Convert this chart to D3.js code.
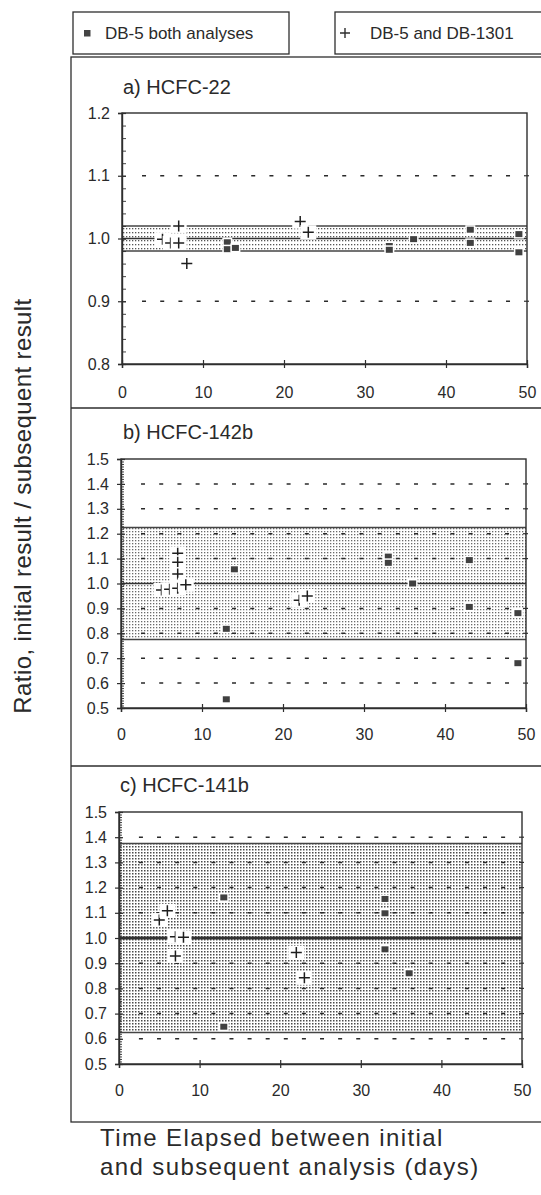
<!DOCTYPE html>
<html><head><meta charset="utf-8">
<script src="https://cdn.jsdelivr.net/npm/d3@7"></script>
<style>
body{margin:0;background:#fff;}
svg{display:block;}
text{font-family:"Liberation Sans",Arial,Helvetica,sans-serif;fill:#2a2a2a;}
</style>
</head><body>
<svg id="chart" width="541" height="1195"></svg>
<script>
// ---------- data ----------
const legendLabels = ["DB-5 both analyses", "DB-5 and DB-1301"];
const panelTitles = ["a) HCFC-22", "b) HCFC-142b", "c) HCFC-141b"];
const xTickValues = [0, 10, 20, 30, 40, 50];
const yTicksA = [0.8, 0.9, 1.0, 1.1, 1.2];
const yTicksBC = [0.5, 0.6, 0.7, 0.8, 0.9, 1.0, 1.1, 1.2, 1.3, 1.4, 1.5];
const gridA = [0.9, 1.1];
const gridBC = [0.6, 0.7, 0.8, 0.9, 1.1, 1.2, 1.3, 1.4];
const bandA = [0.98, 1.02];
const bandB = [0.775, 1.225];
const bandC = [0.625, 1.375];

const aSquareDays = [13, 13, 14, 33, 33, 36, 43, 43, 49, 49];
const aSquareVals = [0.994, 0.983, 0.985, 0.988, 0.982, 0.999, 1.014, 0.993, 1.007, 0.978];
const aCrossDays = [5, 6, 7, 7, 8, 22, 23];
const aCrossVals = [0.999, 0.993, 0.993, 1.02, 0.96, 1.027, 1.01];

const bSquareDays = [13, 13, 14, 33, 33, 36, 43, 43, 49, 49];
const bSquareVals = [0.818, 0.535, 1.057, 1.108, 1.083, 1.0, 1.094, 0.906, 0.881, 0.68];
const bCrossDays = [5, 6, 7, 7, 7, 7, 8, 22, 23];
const bCrossVals = [0.974, 0.977, 1.121, 1.085, 1.038, 0.981, 0.995, 0.933, 0.95];

const cSquareDays = [13, 13, 33, 33, 33, 36];
const cSquareVals = [1.161, 0.648, 1.155, 1.098, 0.955, 0.86];
const cCrossDays = [5, 6, 7, 8, 7, 22, 23];
const cCrossVals = [1.071, 1.108, 1.005, 1.003, 0.929, 0.942, 0.842];

const xTitleLines = ["Time Elapsed between initial", "and subsequent analysis (days)"];
const yTitle = "Ratio, initial result / subsequent result";

// ---------- layout ----------
const panels = [
  {title: panelTitles[0], yTicks: yTicksA, grid: gridA, band: bandA, minor: 0.02,
   sqD: aSquareDays, sqV: aSquareVals, crD: aCrossDays, crV: aCrossVals,
   left: 122, right: 527, top: 113, bottom: 364, titleX: 123, titleY: 94, xLab: 28,
   pat: "patA", centerW: 1.6},
  {title: panelTitles[1], yTicks: yTicksBC, grid: gridBC, band: bandB, minor: 0.01,
   sqD: bSquareDays, sqV: bSquareVals, crD: bCrossDays, crV: bCrossVals,
   left: 121, right: 526, top: 459, bottom: 708, titleX: 123, titleY: 439, xLab: 26,
   pat: "patB", centerW: 1.6},
  {title: panelTitles[2], yTicks: yTicksBC, grid: gridBC, band: bandC, minor: 0.01,
   sqD: cSquareDays, sqV: cSquareVals, crD: cCrossDays, crV: cCrossVals,
   left: 119, right: 522, top: 812, bottom: 1064, titleX: 120, titleY: 792, xLab: 26,
   pat: "patC", centerW: 2.8}
];

const ink = "#2e2e2e";
const svg = d3.select("#chart");
const defs = svg.append("defs");
function makePattern(id, w, h, s, col) {
  const p = defs.append("pattern").attr("id", id).attr("patternUnits", "userSpaceOnUse")
    .attr("width", w).attr("height", h);
  p.append("rect").attr("width", w).attr("height", h).attr("fill", "#fff");
  p.append("rect").attr("x", 0).attr("y", 0).attr("width", s).attr("height", s).attr("fill", col);
}
makePattern("patA", 3, 4, 1.3, "#555");
makePattern("patB", 3, 3, 1.3, "#6a6a6a");
makePattern("patC", 3, 3, 1.5, "#4a4a4a");

// ---------- legend ----------
svg.append("rect").attr("x", 73).attr("y", 12).attr("width", 216).attr("height", 42)
  .attr("fill", "none").attr("stroke", ink).attr("stroke-width", 1.3);
svg.append("rect").attr("x", 335).attr("y", 12).attr("width", 230).attr("height", 42)
  .attr("fill", "none").attr("stroke", ink).attr("stroke-width", 1.3);
svg.append("rect").attr("x", 84).attr("y", 30).attr("width", 6.5).attr("height", 6.5).attr("fill", "#444");
svg.append("text").attr("x", 105).attr("y", 33).attr("dy", "0.36em").attr("font-size", 17).text(legendLabels[0]);
svg.append("path").attr("d", "M340,33H350M345,28V38").attr("stroke", ink).attr("stroke-width", 1.4);
svg.append("text").attr("x", 370).attr("y", 33).attr("dy", "0.36em").attr("font-size", 17).text(legendLabels[1]);

// ---------- outer panel frames ----------
svg.append("rect").attr("x", 71).attr("y", 57).attr("width", 500).attr("height", 1065)
  .attr("fill", "none").attr("stroke", ink).attr("stroke-width", 1.3);
[408, 766].forEach(yy => svg.append("line").attr("x1", 71).attr("x2", 541)
  .attr("y1", yy).attr("y2", yy).attr("stroke", ink).attr("stroke-width", 1.3));

// ---------- panels ----------
panels.forEach(P => {
  const x = d3.scaleLinear().domain([0, 50]).range([P.left, P.right]);
  const y = d3.scaleLinear().domain([P.yTicks[0], P.yTicks[P.yTicks.length - 1]]).range([P.bottom, P.top]);
  const g = svg.append("g");
  const W = P.right - P.left;

  g.append("text").attr("x", P.titleX).attr("y", P.titleY).attr("font-size", 20).text(P.title);

  // band
  g.append("rect").attr("x", P.left).attr("width", W)
    .attr("y", y(P.band[1])).attr("height", y(P.band[0]) - y(P.band[1]))
    .attr("fill", `url(#${P.pat})`);

  // dashed gridlines
  const period = W / 22.25;
  P.grid.forEach(v => {
    g.append("line").attr("x1", P.left + period * 1.1).attr("x2", P.right - 4)
      .attr("y1", y(v)).attr("y2", y(v))
      .attr("stroke", "#2a2a2a").attr("stroke-width", 1.5)
      .attr("stroke-dasharray", `4,${(period - 4).toFixed(2)}`);
    g.append("line").attr("x1", P.right - 3).attr("x2", P.right + 2)
      .attr("y1", y(v)).attr("y2", y(v)).attr("stroke", "#333").attr("stroke-width", 1.2);
  });

  // band edges + centre line
  P.band.forEach(v => g.append("line").attr("x1", P.left).attr("x2", P.right)
    .attr("y1", y(v)).attr("y2", y(v)).attr("stroke", "#444").attr("stroke-width", 1.5));
  g.append("line").attr("x1", P.left).attr("x2", P.right)
    .attr("y1", y(1.0)).attr("y2", y(1.0)).attr("stroke", "#333").attr("stroke-width", P.centerW);

  // frame
  g.append("rect").attr("x", P.left).attr("y", P.top).attr("width", W).attr("height", P.bottom - P.top)
    .attr("fill", "none").attr("stroke", ink).attr("stroke-width", 1.4);

  // y minor ticks
  const lo = P.yTicks[0], hi = P.yTicks[P.yTicks.length - 1];
  const minorVals = d3.range(Math.round((hi - lo) / P.minor) + 1).map(i => lo + i * P.minor);
  const minorAxis = g.append("g").attr("transform", `translate(${P.left},0)`)
    .call(d3.axisRight(y).tickValues(minorVals).tickSize(P.minor < 0.015 ? 3 : 4).tickFormat(""));
  minorAxis.select(".domain").remove();
  minorAxis.selectAll("line").attr("stroke", ink).attr("stroke-width", 0.9);

  // y major axis
  const yAxis = g.append("g").attr("transform", `translate(${P.left},0)`)
    .call(d3.axisLeft(y).tickValues(P.yTicks).tickFormat(d3.format(".1f")).tickSizeOuter(0).tickSize(4).tickPadding(8));
  yAxis.select(".domain").attr("stroke", ink).attr("stroke-width", 1.4);
  yAxis.selectAll(".tick line").attr("x1", -4).attr("x2", 4).attr("stroke", ink).attr("stroke-width", 1.2);
  yAxis.selectAll(".tick text").attr("font-size", 16).attr("fill", "#2a2a2a")
    .attr("font-family", '"Liberation Sans",Arial,sans-serif');

  // x axis
  const xAxis = g.append("g").attr("transform", `translate(0,${P.bottom})`)
    .call(d3.axisBottom(x).tickValues(xTickValues).tickSizeOuter(0).tickSize(4));
  xAxis.select(".domain").attr("stroke", ink).attr("stroke-width", 1.4);
  xAxis.selectAll(".tick line").attr("y1", -4).attr("y2", 4).attr("stroke", ink).attr("stroke-width", 1.2);
  xAxis.selectAll(".tick text").attr("y", P.xLab).attr("dy", "0.36em").attr("font-size", 16)
    .attr("fill", "#2a2a2a").attr("font-family", '"Liberation Sans",Arial,sans-serif');

  // markers: squares series, then cross series, each with white halo
  const sq = g.append("g");
  P.sqD.forEach((d, i) => {
    const cx = x(d), cy = y(P.sqV[i]);
    sq.append("rect").attr("x", cx - 5).attr("y", cy - 4.5).attr("width", 10).attr("height", 9).attr("fill", "#fff");
    sq.append("rect").attr("x", cx - 3.5).attr("y", cy - 3).attr("width", 7).attr("height", 6).attr("fill", "#404040");
  });
  const cr = g.append("g");
  P.crD.forEach((d, i) => {
    const cx = x(d), cy = y(P.crV[i]);
    cr.append("rect").attr("x", cx - 8).attr("y", cy - 7).attr("width", 16).attr("height", 14).attr("fill", "#fff");
    cr.append("path").attr("d", `M${cx - 5.5},${cy}H${cx + 5.5}M${cx},${cy - 5.5}V${cy + 5.5}`)
      .attr("stroke", "#1e1e1e").attr("stroke-width", 1.5);
  });
});

// ---------- axis titles ----------
svg.append("text").attr("transform", "translate(31,506) rotate(-90)")
  .attr("text-anchor", "middle").attr("font-size", 24).attr("letter-spacing", 0.4)
  .attr("fill", "#3a3a3a").text(yTitle);
xTitleLines.forEach((t, i) => svg.append("text").attr("x", 100).attr("y", 1146 + i * 29)
  .attr("font-size", 24).attr("letter-spacing", 1.4).attr("fill", "#3a3a3a").text(t));
</script>
</body></html>
